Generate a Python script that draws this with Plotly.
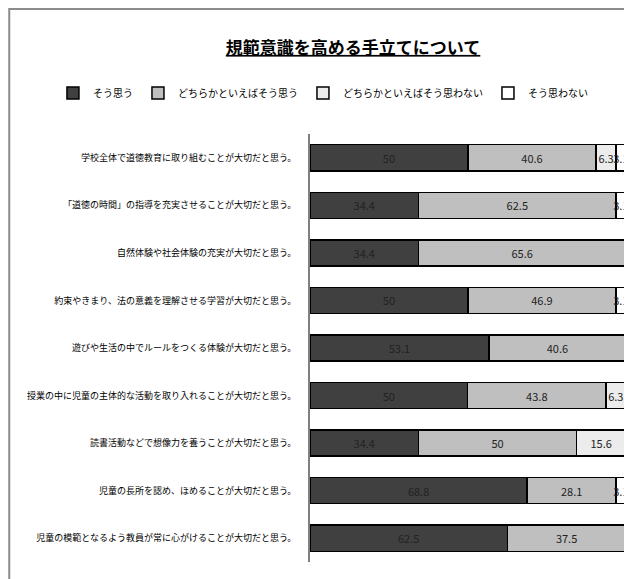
import plotly.graph_objects as go

categories = [
    "学校全体で道徳教育に取り組むことが大切だと思う。",
    "「道徳の時間」の指導を充実させることが大切だと思う。",
    "自然体験や社会体験の充実が大切だと思う。",
    "約束やきまり、法の意義を理解させる学習が大切だと思う。",
    "遊びや生活の中でルールをつくる体験が大切だと思う。",
    "授業の中に児童の主体的な活動を取り入れることが大切だと思う。",
    "読書活動などで想像力を養うことが大切だと思う。",
    "児童の長所を認め、ほめることが大切だと思う。",
    "児童の模範となるよう教員が常に心がけることが大切だと思う。",
]
series_names = ["そう思う", "どちらかといえばそう思う", "どちらかといえばそう思わない", "そう思わない"]
s1 = [50, 34.4, 34.4, 50, 53.1, 50, 34.4, 68.8, 62.5]
s2 = [40.6, 62.5, 65.6, 46.9, 40.6, 43.8, 50, 28.1, 37.5]
s3 = [6.3, 0, 0, 0, 0, 6.3, 15.6, 0, 0]
s4 = [3.1, 3.1, 0, 3.1, 0, 0, 0, 3.1, 0]
title = "規範意識を高める手立てについて"

colors = ["#404040", "#bfbfbf", "#ececec", "#ffffff"]
FONT = "Noto Sans CJK JP"

fig = go.Figure()
for name, vals, col in zip(series_names, [s1, s2, s3, s4], colors):
    fig.add_trace(go.Bar(
        y=categories, x=vals, name=name, orientation="h",
        marker=dict(color=col, line=dict(color="#000000", width=1.5)),
        text=[("%g" % v) if v > 0 else "" for v in vals],
        textposition="inside", insidetextanchor="middle",
        constraintext="none",
        textfont=dict(family=FONT, size=11, color="#222222"),
        width=0.55,
    ))

fig.update_layout(
    barmode="stack", barnorm="percent",
    width=624, height=571,
    margin=dict(l=0, r=4, t=126, b=17, autoexpand=False),
    paper_bgcolor="white", plot_bgcolor="white",
    font=dict(family=FONT, size=12, color="#000000"),
    title=dict(text="<b><u>" + title + "</u></b>", x=0.553, xanchor="center",
               y=0.93, yanchor="middle", font=dict(size=17, family=FONT)),
    legend=dict(orientation="h", x=0.508, xanchor="center", y=1.096, yanchor="middle",
                font=dict(size=10, family=FONT), traceorder="normal",
                itemwidth=30, bgcolor="rgba(0,0,0,0)"),
    showlegend=True,
)
fig.update_xaxes(domain=[0.4870, 1], range=[0, 100.7], showticklabels=False, showgrid=False,
                 zeroline=False, showline=False, ticks="")
fig.update_yaxes(autorange="reversed", showgrid=False, showline=True, linecolor="#808080",
                 linewidth=1.5, ticks="", ticklabelstandoff=10, automargin=False,
                 tickfont=dict(size=9, family=FONT, color="#000000"))

# outer chart frame (left and top edges)
fig.add_shape(type="path", xref="paper", yref="paper",
              path="M 0.002 -0.05 L 0.002 1.292 L 1.02 1.292",
              line=dict(color="#8c8c8c", width=2))

fig.write_html("out.html")
